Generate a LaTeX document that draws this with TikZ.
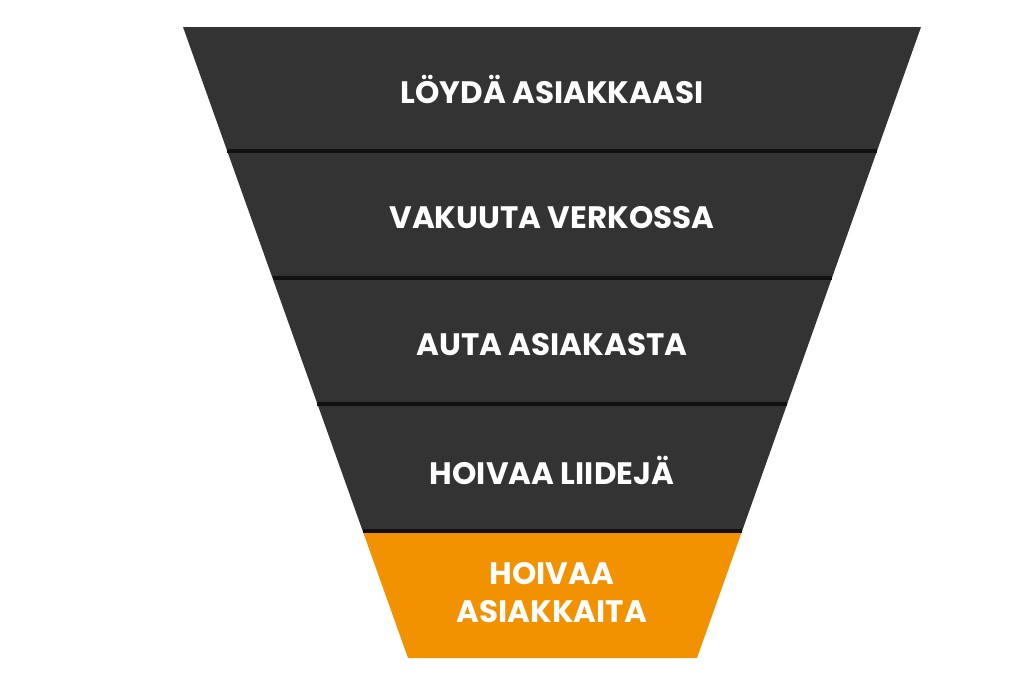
\documentclass[tikz,border=0pt]{standalone}
\usepackage{fontspec}
\setmainfont{Poppins}[BoldFont={* Bold}]
\definecolor{band}{HTML}{333333}
\definecolor{orng}{HTML}{F39200}
\definecolor{sep}{HTML}{111111}
\begin{document}
\begin{tikzpicture}[x=1pt,y=-1pt,
  lbl/.style={text=white,font=\bfseries\fontsize{31}{38}\selectfont,align=center}]
\useasboundingbox (0,0) rectangle (1024,680);
\foreach \a/\b/\c in {27/151/band,151/278/band,278/404/band,404/531/band,531/658/orng}{
  \fill[\c] ({183+0.35658*(\a-27)},\a) -- ({921-0.35499*(\a-27)},\a) -- ({921-0.35499*(\b-27)},\b) -- ({183+0.35658*(\b-27)},\b) -- cycle;
}
\foreach \a in {151,278,404,531}{
  \draw[sep,line width=3.5pt] ({183+0.35658*(\a-27)},\a) -- ({921-0.35499*(\a-27)},\a);
}
\node[lbl] (l1) at (552,89) {LÖYDÄ ASIAKKAASI};
\node[lbl] (l2) at (552,218) {VAKUUTA VERKOSSA};
\node[lbl] (l3) at (552,345) {AUTA ASIAKASTA};
\node[lbl] (l4) at (552,470) {HOIVAA LIIDEJÄ};
\node[lbl] (l5) at (552,593) {HOIVAA\\ASIAKKAITA};
\end{tikzpicture}
\end{document}
